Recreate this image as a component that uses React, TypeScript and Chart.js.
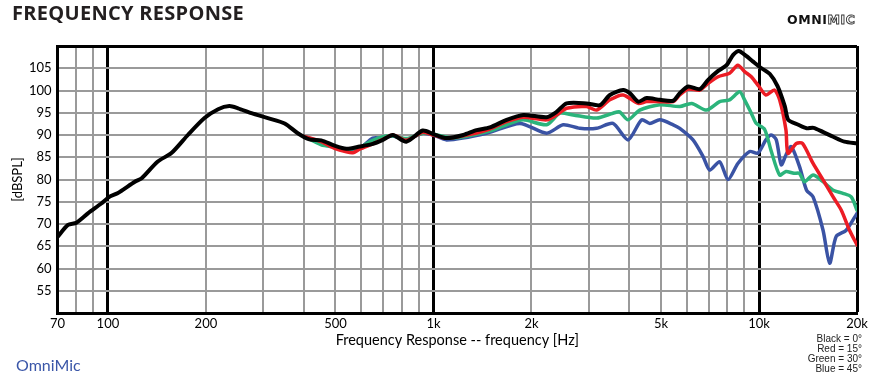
import React, { useEffect, useRef } from 'react';
import { Chart, registerables } from 'chart.js';

Chart.register(...registerables);

// ---- data (frequency in Hz, level in dB SPL) ----
const blackFreq = [70, 75.4, 80, 86.8, 95.4, 101, 107, 121, 127, 142, 157, 176, 198, 218, 236, 251, 276, 310, 349, 383, 416, 452, 497, 540, 593, 651, 699, 750, 825, 927, 1000, 1098, 1235, 1357, 1491, 1678, 1887, 2226, 2389, 2564, 2953, 3245, 3483, 3825, 4012, 4254, 4514, 4960, 5450, 5710, 6060, 6580, 6980, 7490, 7950, 8330, 8670, 9050, 9590, 10180, 10800, 11400, 12000, 12300, 13200, 14000, 14700, 15700, 16900, 18300, 20000];
const blackSpl = [67.1, 69.8, 70.3, 72.4, 74.6, 76.1, 76.9, 79.5, 80.3, 84.0, 86.0, 90.0, 93.8, 95.8, 96.5, 96.0, 94.9, 93.8, 92.6, 90.4, 89.0, 88.8, 87.6, 86.9, 87.4, 88.0, 88.9, 90.0, 88.5, 91.0, 90.2, 89.3, 90.0, 91.1, 91.7, 93.4, 94.5, 94.0, 95.2, 97.1, 97.1, 96.7, 99.0, 100.1, 99.4, 97.5, 98.3, 97.9, 97.7, 99.4, 100.9, 100.3, 102.4, 104.4, 105.7, 108.0, 108.9, 108.0, 106.5, 105.0, 103.7, 101.0, 96.5, 93.4, 92.3, 91.5, 91.6, 90.7, 89.6, 88.5, 88.1];

const redFreq = [400, 452, 497, 540, 565, 593, 651, 699, 750, 825, 927, 1000, 1098, 1235, 1457, 1678, 1887, 2226, 2389, 2564, 2953, 3170, 3483, 3825, 4254, 4514, 4960, 5450, 5710, 6060, 6580, 6980, 7490, 8120, 8610, 9050, 9470, 10000, 10500, 11160, 11570, 12100, 12270, 13020, 13600, 14660, 15730, 16890, 17900, 18970, 20000];
const redSpl = [89.7, 88.5, 87.0, 86.2, 86.0, 86.8, 88.0, 89.0, 90.0, 88.8, 90.6, 90.0, 89.3, 89.8, 91.1, 93.0, 94.0, 93.4, 94.5, 96.0, 96.4, 95.6, 97.9, 99.0, 97.1, 97.5, 97.5, 97.5, 99.0, 100.3, 100.1, 101.6, 103.1, 103.9, 105.7, 104.2, 103.1, 100.9, 99.0, 100.1, 97.9, 91.1, 85.9, 88.1, 88.1, 83.6, 79.9, 76.1, 73.1, 68.6, 65.3];

const greenFreq = [400, 452, 497, 540, 593, 651, 699, 750, 825, 927, 1000, 1150, 1457, 1678, 1887, 2226, 2446, 2686, 3170, 3560, 3730, 3960, 4300, 4960, 5710, 6210, 6900, 7570, 8120, 8720, 9030, 9470, 9810, 10400, 10900, 11570, 12100, 12800, 13300, 13800, 14660, 15730, 16890, 18100, 19200, 20000];
const greenSpl = [89.7, 87.8, 87.3, 86.8, 87.2, 88.8, 89.6, 89.8, 89.2, 90.4, 90.2, 89.3, 90.7, 92.3, 93.4, 92.3, 94.9, 94.5, 93.8, 94.9, 95.2, 93.4, 95.6, 96.8, 96.4, 97.1, 95.6, 97.5, 97.9, 99.7, 97.9, 94.9, 92.6, 91.3, 86.4, 81.0, 81.8, 81.4, 81.4, 79.5, 81.0, 79.5, 77.6, 76.9, 76.1, 73.1];

const blueFreq = [400, 452, 497, 540, 593, 651, 699, 750, 825, 927, 1000, 1098, 1457, 1843, 2226, 2503, 2815, 3170, 3560, 3960, 4360, 4620, 4960, 5450, 5710, 6270, 6740, 7060, 7570, 8030, 8610, 9360, 9920, 10500, 10900, 11300, 11700, 12100, 12560, 13320, 14000, 14660, 15730, 16480, 17260, 18530, 20000];
const blueSpl = [89.7, 88.3, 87.3, 86.6, 87.0, 89.3, 89.3, 89.8, 89.0, 90.4, 90.0, 88.9, 90.4, 92.6, 90.4, 92.3, 91.5, 91.5, 92.6, 88.9, 93.4, 92.6, 93.4, 92.3, 91.5, 88.9, 85.1, 82.1, 84.0, 80.0, 83.6, 86.3, 85.9, 88.9, 90.0, 88.9, 83.3, 85.5, 87.4, 82.9, 77.6, 76.1, 68.6, 61.2, 67.2, 68.6, 72.4];

// ---- axes ----
const xGridFreqs = [70, 80, 90, 100, 200, 300, 400, 500, 600, 700, 800, 900, 1000, 2000, 3000, 4000, 5000, 6000, 7000, 8000, 9000, 10000, 20000];
const xMajorFreqs = [100, 1000, 10000, 20000];
const xTickValues = [70, 100, 200, 500, 1000, 2000, 5000, 10000, 20000];
const xTickLabels = ['70', '100', '200', '500', '1k', '2k', '5k', '10k', '20k'];
const yMin = 50;
const yMax = 110;
const yStep = 5;
const xTitle = 'Frequency Response -- frequency [Hz]';
const yTitle = '[dBSPL]';
const legendLines = ['Black = 0°', 'Red = 15°', 'Green = 30°', 'Blue = 45°'];

const toPoints = (f: number[], s: number[]) => f.map((x, i) => ({ x, y: s[i] }));

export default function App() {
  const ref = useRef<HTMLCanvasElement | null>(null);

  useEffect(() => {
    if (!ref.current) return;
    const chart = new Chart(ref.current, {
      type: 'line',
      data: {
        datasets: [
          { label: 'Black', data: toPoints(blackFreq, blackSpl), borderColor: '#000000', borderWidth: 4 },
          { label: 'Red', data: toPoints(redFreq, redSpl), borderColor: '#ec1c24', borderWidth: 3.5 },
          { label: 'Green', data: toPoints(greenFreq, greenSpl), borderColor: '#2bb47b', borderWidth: 3.5 },
          { label: 'Blue', data: toPoints(blueFreq, blueSpl), borderColor: '#3a53a4', borderWidth: 3.5 },
        ],
      },
      options: {
        animation: false,
        responsive: false,
        devicePixelRatio: 1,
        layout: { padding: { left: 0, top: 46, right: 17, bottom: 0 } },
        plugins: { legend: { display: false }, tooltip: { enabled: false }, title: { display: false } },
        elements: {
          point: { radius: 0 },
          line: { tension: 0.25, borderJoinStyle: 'round', borderCapStyle: 'round', fill: false },
        },
        scales: {
          x: {
            type: 'logarithmic',
            min: 70,
            max: 20000,
            afterBuildTicks: (s: any) => {
              s.ticks = xGridFreqs.map((v) => ({ value: v }));
            },
            afterFit: (s: any) => {
              s.height = 70;
            },
            ticks: {
              autoSkip: false,
              maxRotation: 0,
              minRotation: 0,
              padding: 3,
              color: '#000',
              font: { family: 'Lato', size: 13 },
              callback: (v: any) => {
                const i = xTickValues.indexOf(Number(v));
                return i >= 0 ? xTickLabels[i] : '';
              },
            },
            grid: {
              drawTicks: false,
              color: (ctx: any) => (ctx.tick && xMajorFreqs.includes(ctx.tick.value) ? '#000' : '#9a9a9a'),
              lineWidth: (ctx: any) => (ctx.tick && xMajorFreqs.includes(ctx.tick.value) ? 3 : 2),
            },
            border: { display: true, color: '#000', width: 3 },
            title: {
              display: true,
              text: xTitle,
              color: '#000',
              font: { family: 'Lato', size: 14.5 },
              padding: { top: 0, bottom: 34 },
            },
          },
          y: {
            type: 'linear',
            min: yMin,
            max: yMax,
            afterFit: (s: any) => {
              s.width = 57.5;
            },
            ticks: {
              stepSize: yStep,
              padding: 6,
              color: '#000',
              font: { family: 'Lato', size: 13 },
              callback: (v: any) => (v === yMin || v === yMax ? '' : String(v)),
            },
            grid: {
              drawTicks: false,
              color: (ctx: any) => (ctx.tick && ctx.tick.value === yMax ? '#000' : '#9a9a9a'),
              lineWidth: (ctx: any) => (ctx.tick && ctx.tick.value === yMax ? 3 : 2),
            },
            border: { display: true, color: '#000', width: 3 },
            title: {
              display: true,
              text: yTitle,
              color: '#000',
              font: { family: 'Lato', size: 13 },
              padding: { top: 10, bottom: 4 },
            },
          },
        },
      } as any,
    });
    return () => chart.destroy();
  }, []);

  return (
    <div style={{ position: 'absolute', left: 0, top: 0, width: 874, height: 383, background: '#fff', overflow: 'hidden' }}>
      <canvas ref={ref} width={874} height={383} style={{ position: 'absolute', left: 0, top: 0, width: 874, height: 383 }} />
      <div
        style={{
          position: 'absolute', left: 12, top: 3, fontFamily: '"Open Sans"', fontWeight: 700, fontSize: 20,
          lineHeight: '20px', letterSpacing: 0.3, color: '#231f20', whiteSpace: 'nowrap',
        }}
      >
        FREQUENCY RESPONSE
      </div>
      <div
        style={{
          position: 'absolute', left: 787, top: 13, fontFamily: '"DejaVu Sans"', fontWeight: 700, fontSize: 12.5,
          lineHeight: '13px', letterSpacing: 0.6, whiteSpace: 'nowrap',
        }}
      >
        <span style={{ color: '#111' }}>OMNI</span>
        <span style={{ color: '#fff', WebkitTextStroke: '0.9px #333' } as any}>MIC</span>
      </div>
      <div
        style={{
          position: 'absolute', left: 16, top: 356.5, fontFamily: 'Lato', fontSize: 16, lineHeight: '16px',
          color: '#3a56a8', whiteSpace: 'nowrap',
        }}
      >
        OmniMic
      </div>
      <div
        style={{
          position: 'absolute', right: 12, top: 334, fontFamily: '"Liberation Sans"', fontSize: 10,
          lineHeight: '10px', color: '#222', textAlign: 'right', whiteSpace: 'nowrap',
        }}
      >
        {legendLines.map((t) => (
          <div key={t}>{t}</div>
        ))}
      </div>
    </div>
  );
}
